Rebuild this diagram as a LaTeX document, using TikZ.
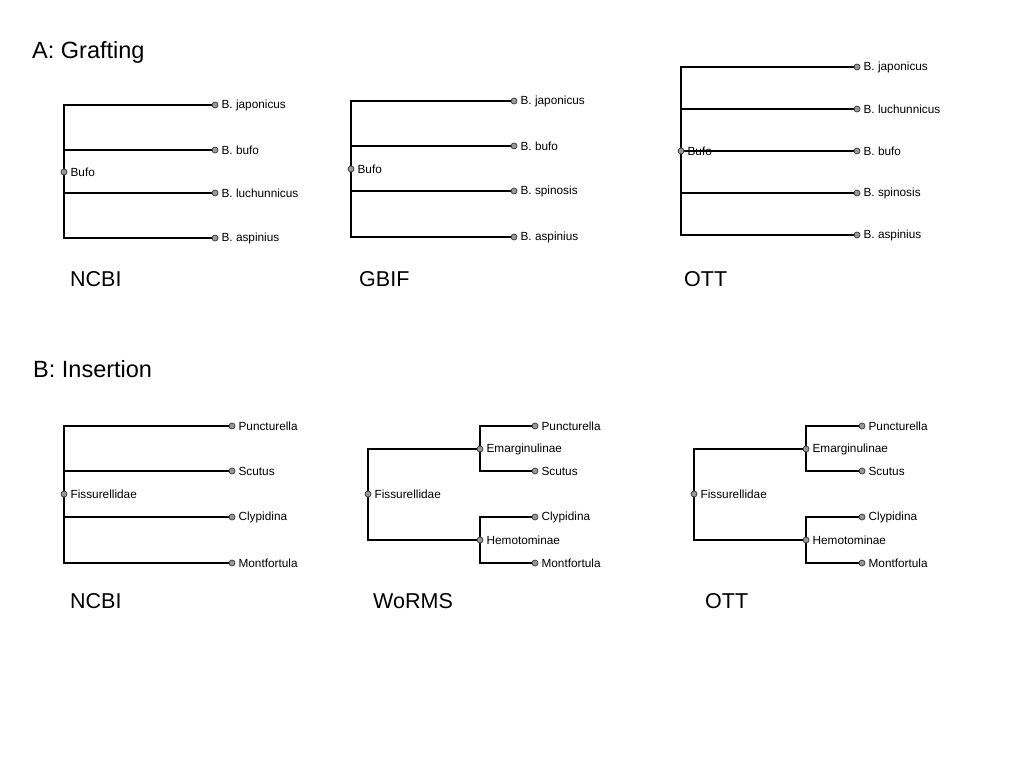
\documentclass[tikz,border=0pt]{standalone}
\usepackage{fontspec}
\setmainfont{Liberation Sans}
\usetikzlibrary{backgrounds}
\begin{document}
\begin{tikzpicture}[x=1pt,y=-1pt,
  pt/.style={circle,draw=black!75,fill=black!40,line width=0.8pt,inner sep=0pt,minimum size=6pt},
  lbl/.style={font=\fontsize{11.8}{13}\selectfont,inner sep=0pt,xshift=3pt},
  ttl/.style={font=\fontsize{21.5}{25}\selectfont,anchor=west,inner sep=0pt},
  sec/.style={ttl,font=\fontsize{23.5}{27}\selectfont},
  edge/.style={line width=1.3pt,black}]
\useasboundingbox (0,0) rectangle (1024,768);
% titles
\node[sec] (tA) at (32,52) {A: Grafting};
\node[sec] (tB) at (33,369) {B: Insertion};
\node[ttl] (t1) at (70,279) {NCBI};
\node[ttl] (t2) at (359,279) {GBIF};
\node[ttl] (t3) at (684,279) {OTT};
\node[ttl] (t4) at (70,601) {NCBI};
\node[ttl] (t5) at (373,601) {WoRMS};
\node[ttl] (t6) at (705,601) {OTT};
% A NCBI
\node[pt,label={[lbl]0:Bufo}] (a0) at (64,172) {};
\node[pt,label={[lbl]0:B. japonicus}] (a1) at (215,105) {};
\node[pt,label={[lbl]0:B. bufo}] (a2) at (215,150) {};
\node[pt,label={[lbl]0:B. luchunnicus}] (a3) at (215,193) {};
\node[pt,label={[lbl]0:B. aspinius}] (a4) at (215,238) {};
% A GBIF
\node[pt,label={[lbl]0:Bufo}] (b0) at (351,169) {};
\node[pt,label={[lbl]0:B. japonicus}] (b1) at (514,101) {};
\node[pt,label={[lbl]0:B. bufo}] (b2) at (514,146) {};
\node[pt,label={[lbl]0:B. spinosis}] (b3) at (514,191) {};
\node[pt,label={[lbl]0:B. aspinius}] (b4) at (514,237) {};
% A OTT
\node[pt,label={[lbl]0:Bufo}] (c0) at (681,151) {};
\node[pt,label={[lbl]0:B. japonicus}] (c1) at (857,67) {};
\node[pt,label={[lbl]0:B. luchunnicus}] (c2) at (857,109) {};
\node[pt,label={[lbl]0:B. bufo}] (c3) at (857,151) {};
\node[pt,label={[lbl]0:B. spinosis}] (c4) at (857,193) {};
\node[pt,label={[lbl]0:B. aspinius}] (c5) at (857,235) {};
% B NCBI
\node[pt,label={[lbl]0:Fissurellidae}] (d0) at (64,494) {};
\node[pt,label={[lbl]0:Puncturella}] (d1) at (232,426) {};
\node[pt,label={[lbl]0:Scutus}] (d2) at (232,471) {};
\node[pt,label={[lbl]0:Clypidina}] (d3) at (232,517) {};
\node[pt,label={[lbl]0:Montfortula}] (d4) at (232,563) {};
% B WoRMS
\node[pt,label={[lbl]0:Fissurellidae}] (e0) at (368,494) {};
\node[pt,label={[lbl]0:Emarginulinae}] (eA) at (480,449) {};
\node[pt,label={[lbl]0:Hemotominae}] (eB) at (480,540) {};
\node[pt,label={[lbl]0:Puncturella}] (e1) at (535,426) {};
\node[pt,label={[lbl]0:Scutus}] (e2) at (535,471) {};
\node[pt,label={[lbl]0:Clypidina}] (e3) at (535,517) {};
\node[pt,label={[lbl]0:Montfortula}] (e4) at (535,563) {};
% B OTT
\node[pt,label={[lbl]0:Fissurellidae}] (f0) at (694,494) {};
\node[pt,label={[lbl]0:Emarginulinae}] (fA) at (806,449) {};
\node[pt,label={[lbl]0:Hemotominae}] (fB) at (806,540) {};
\node[pt,label={[lbl]0:Puncturella}] (f1) at (862,426) {};
\node[pt,label={[lbl]0:Scutus}] (f2) at (862,471) {};
\node[pt,label={[lbl]0:Clypidina}] (f3) at (862,517) {};
\node[pt,label={[lbl]0:Montfortula}] (f4) at (862,563) {};
\begin{scope}[on background layer]
\foreach \r/\l in {a0/a1,a0/a2,a0/a3,a0/a4,b0/b1,b0/b2,b0/b3,b0/b4,
  c0/c1,c0/c2,c0/c3,c0/c4,c0/c5,d0/d1,d0/d2,d0/d3,d0/d4,
  e0/eA,e0/eB,eA/e1,eA/e2,eB/e3,eB/e4,f0/fA,f0/fB,fA/f1,fA/f2,fB/f3,fB/f4}
  \draw[edge] (\r.center) |- (\l.center);
\end{scope}
\end{tikzpicture}
\end{document}
